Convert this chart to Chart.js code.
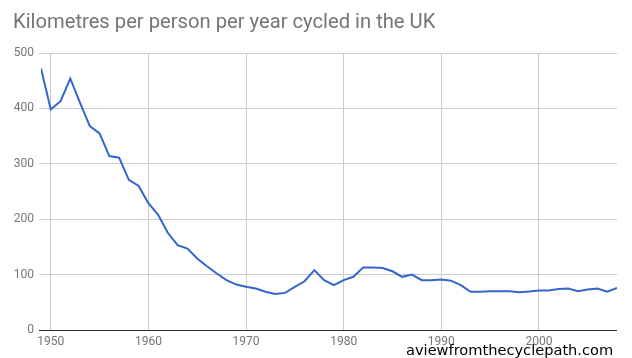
<!DOCTYPE html>
<html>
<head>
<meta charset="utf-8">
<script src="https://cdn.jsdelivr.net/npm/chart.js@4"></script>
<style>
  html, body { margin: 0; padding: 0; background: #fff; }
  #wrap { position: relative; width: 632px; height: 358px; overflow: hidden; }
  #title { position: absolute; left: 13px; top: 9px; font-family: Roboto, sans-serif; font-size: 20.2px; color: #757575; white-space: nowrap; }
  #mark { position: absolute; left: 406px; top: 341px; font-family: "DejaVu Sans", sans-serif; font-size: 14.6px; color: #000; white-space: nowrap; }
  canvas { position: absolute; left: 0; top: 0; }
</style>
</head>
<body>
<div id="wrap">
  <canvas id="c" width="632" height="358"></canvas>
  <div id="title">Kilometres per person per year cycled in the UK</div>
  <div id="mark">aviewfromthecyclepath.com</div>
</div>
<script>
const years = [1949,1950,1951,1952,1953,1954,1955,1956,1957,1958,1959,
  1960,1961,1962,1963,1964,1965,1966,1967,1968,1969,
  1970,1971,1972,1973,1974,1975,1976,1977,1978,1979,
  1980,1981,1982,1983,1984,1985,1986,1987,1988,1989,
  1990,1991,1992,1993,1994,1995,1996,1997,1998,1999,
  2000,2001,2002,2003,2004,2005,2006,2007,2008];
const kmPerPerson = [472,398,413,454,410,368,355,314,311,271,260,
  229,208,175,153,147,129,115,102,90,82,
  78,75,69,65,67,78,88,108,90,81,
  90,96,113,113,112,106,96,100,90,90,
  91,89,81,69,69,70,70,70,68,69.5,
  71.5,71.5,74,75,70,73,75,69,76];
const xTicks = [1950,1960,1970,1980,1990,2000];
const yTicks = [0,100,200,300,400,500];

new Chart(document.getElementById('c'), {
  type: 'line',
  data: {
    datasets: [{
      data: years.map((y, i) => ({ x: y, y: kmPerPerson[i] })),
      borderColor: '#3366cc',
      borderWidth: 2,
      pointRadius: 0,
      tension: 0,
      fill: false
    }]
  },
  options: {
    responsive: false,
    animation: false,
    layout: { padding: { left: 0, right: 15, top: 53, bottom: 0 } },
    plugins: { legend: { display: false }, tooltip: { enabled: false }, title: { display: false } },
    scales: {
      x: {
        type: 'linear',
        min: 1949,
        max: 2008,
        afterBuildTicks: (axis) => { axis.ticks = xTicks.map(v => ({ value: v })); },
        afterFit: (axis) => { axis.height = 28; },
        grid: { color: '#cccccc', drawTicks: false, lineWidth: 1 },
        border: { display: false },
        ticks: { color: '#757575', font: { family: 'Roboto', size: 12 }, padding: 5, maxRotation: 0, callback: v => String(v) }
      },
      y: {
        min: 0,
        max: 500,
        afterBuildTicks: (axis) => { axis.ticks = yTicks.map(v => ({ value: v })); },
        afterFit: (axis) => { axis.width = 41; },
        grid: {
          color: (ctx) => (ctx.tick && ctx.tick.value === 0) ? '#333333' : '#cccccc',
          lineWidth: 1,
          tickLength: 2
        },
        border: { display: false },
        ticks: { color: '#757575', font: { family: 'Roboto', size: 12 }, padding: 5 }
      }
    }
  }
});
</script>
</body>
</html>
